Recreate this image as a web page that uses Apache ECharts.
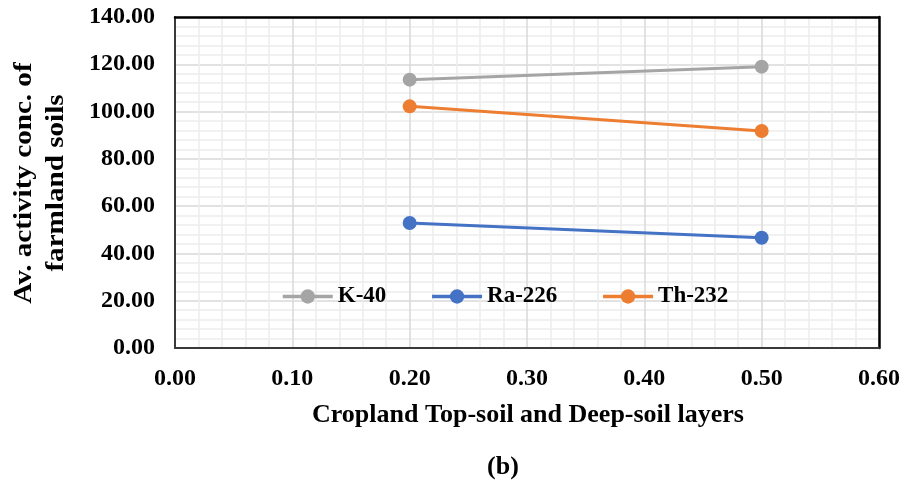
<!DOCTYPE html>
<html>
<head>
<meta charset="utf-8">
<script src="https://cdn.jsdelivr.net/npm/echarts@6/dist/echarts.min.js"></script>
<style>html,body{margin:0;padding:0;background:#fff;}#c{width:915px;height:488px;}</style>
</head>
<body>
<div id="c"></div>
<script>
const depths = [0.2, 0.5];
const k40 = [113.5, 119.0];
const ra226 = [52.9, 46.6];
const th232 = [102.2, 91.8];
const seriesNames = ['K-40', 'Ra-226', 'Th-232'];
const xTitle = 'Cropland Top-soil and Deep-soil layers';
const yTitle = 'Av. activity conc. of\nfarmland soils';
const caption = '(b)';

const FONT = '"Liberation Serif", "Times New Roman", serif';
const colors = ['#a5a5a5', '#4472c4', '#ed7d31'];
const values = [k40, ra226, th232];

const chart = echarts.init(document.getElementById('c'), null, {renderer: 'canvas'});
const mkSeries = (i) => ({
  name: seriesNames[i],
  type: 'line',
  xAxisIndex: 0, yAxisIndex: 0,
  data: depths.map((d, j) => [d, values[i][j]]),
  symbol: 'circle',
  symbolSize: 14,
  itemStyle: {color: colors[i]},
  lineStyle: {color: colors[i], width: 3},
  z: 3
});
const labelStyle = {fontFamily: FONT, fontWeight: 'bold', fontSize: 24, color: '#000'};
const minorLine = {show: true, lineStyle: {color: '#ededed', width: 1.5}};
const majorLine = {show: true, lineStyle: {color: '#d9d9d9', width: 1.5}};
chart.setOption({
  animation: false,
  backgroundColor: '#fff',
  grid: {left: 175, top: 17, right: 36, bottom: 140},
  legend: {
    data: seriesNames,
    left: 276, top: 280,
    itemWidth: 50, itemHeight: 18, itemGap: 44,
    lineStyle: {width: 3.5},
    textStyle: {fontFamily: FONT, fontWeight: 'bold', fontSize: 23, color: '#000'}
  },
  xAxis: [{
    type: 'value', min: 0, max: 0.6, interval: 0.1, position: 'bottom',
    axisLine: {show: true, onZero: false, lineStyle: {color: '#3a3a3a', width: 2}}, axisTick: {show: false},
    axisLabel: Object.assign({formatter: v => v.toFixed(2), margin: 19}, labelStyle),
    splitLine: majorLine,
    minorTick: {show: false, splitNumber: 5},
    minorSplitLine: minorLine
  }, {
    type: 'value', min: 0, max: 0.6, interval: 0.1, position: 'top',
    axisLine: {show: true, onZero: false, lineStyle: {color: '#000', width: 2.5}},
    axisTick: {show: false}, axisLabel: {show: false}, splitLine: {show: false}
  }],
  yAxis: [{
    type: 'value', min: 0, max: 140, interval: 20, position: 'left',
    axisLine: {show: true, onZero: false, lineStyle: {color: '#3a3a3a', width: 2}}, axisTick: {show: false},
    axisLabel: Object.assign({formatter: v => v.toFixed(2), margin: 20}, labelStyle),
    splitLine: majorLine,
    minorTick: {show: false, splitNumber: 5},
    minorSplitLine: minorLine
  }, {
    type: 'value', min: 0, max: 140, interval: 20, position: 'right',
    axisLine: {show: true, onZero: false, lineStyle: {color: '#000', width: 2.5}},
    axisTick: {show: false}, axisLabel: {show: false}, splitLine: {show: false}
  }],
  graphic: [
    {type: 'text', x: 528, y: 415, style: {text: xTitle, font: 'bold 26px ' + FONT, fill: '#000', align: 'center', verticalAlign: 'middle'}},
    {type: 'text', x: 503, y: 467, style: {text: caption, font: 'bold 26px ' + FONT, fill: '#000', align: 'center', verticalAlign: 'middle'}},
    {type: 'text', x: 40, y: 183, rotation: Math.PI / 2, scaleX: 1.12, style: {text: yTitle, font: 'bold 26px ' + FONT, fill: '#000', align: 'center', verticalAlign: 'middle', lineHeight: 32}}
  ],
  series: [mkSeries(0), mkSeries(1), mkSeries(2)]
});
</script>
</body>
</html>
